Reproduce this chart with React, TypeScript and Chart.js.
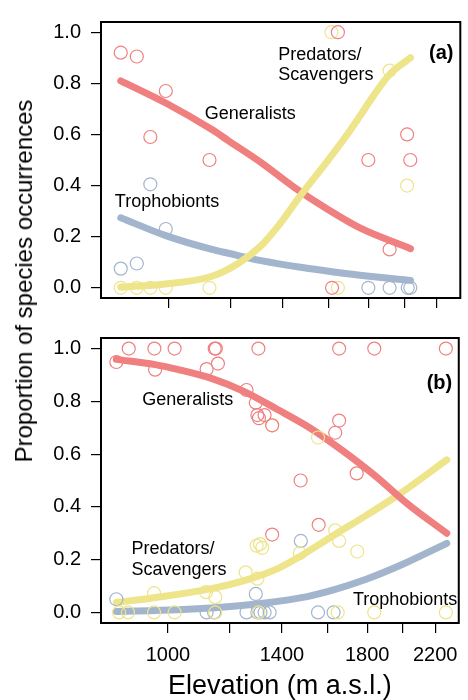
import React, { useEffect, useRef } from 'react';
import { Chart, registerables } from 'chart.js';

Chart.register(...registerables);

const FONT = '"Liberation Sans", Arial, Helvetica, sans-serif';
const RED = 'rgb(240,128,128)';
const YELLOW = 'rgb(238,228,138)';
const BLUE = 'rgb(162,181,205)';

// Axes
const X_MIN = 821;
const X_MAX = 2358;
const X_TICKS = [1000, 1200, 1400, 1600, 1800, 2000, 2200];
const X_LABELS = [1000, 1400, 1800, 2200];
const Y_MIN = -0.04;
const Y_MAX = 1.04;
const Y_TICKS = [0, 0.2, 0.4, 0.6, 0.8, 1.0];

// ---------- Panel (a) observed ----------
const aGenElev = [870, 912, 949, 993, 1129, 1618, 1646, 1800, 1916, 2017, 2036];
const aGenProp = [0.92, 0.905, 0.59, 0.77, 0.5, 0.0, 1.0, 0.5, 0.15, 0.6, 0.5];
const aTroElev = [870, 912, 949, 993, 1800, 1916, 2021, 2036];
const aTroProp = [0.075, 0.095, 0.405, 0.23, 0, 0, 0, 0];
const aPreElev = [870, 912, 949, 993, 1129, 1615, 1646, 1916, 2017];
const aPreProp = [0, 0, 0, 0, 0, 1.0, 0, 0.85, 0.4];

// ---------- Panel (a) fitted curves ----------
const aGenFitElev = [870, 993, 1137, 1193, 1314, 1448, 1595, 1756, 2037];
const aGenFitProp = [0.81, 0.723, 0.619, 0.576, 0.49, 0.393, 0.308, 0.234, 0.153];
const aTroFitElev = [870, 993, 1137, 1193, 1314, 1476, 1626, 1791, 2037];
const aTroFitProp = [0.274, 0.204, 0.15, 0.135, 0.106, 0.08, 0.062, 0.046, 0.029];
const aPreFitElev = [870, 993, 1137, 1228, 1314, 1380, 1462, 1595, 1674, 1756, 1826, 1916, 2037];
const aPreFitProp = [0.003, 0.015, 0.045, 0.095, 0.165, 0.24, 0.345, 0.495, 0.58, 0.672, 0.75, 0.835, 0.9];

// ---------- Panel (b) observed ----------
const bGenElev = [891, 961, 1020, 1148, 1152, 1306, 1657, 1838, 2270, 859, 963, 1121, 1159, 1261, 1296, 1302, 1308, 1330, 1360, 1657, 1638, 1745, 1479, 1560, 1360];
const bGenProp = [1, 1, 1, 1, 1, 1, 1, 1, 1, 0.949, 0.92, 0.922, 0.943, 0.843, 0.795, 0.748, 0.736, 0.748, 0.709, 0.727, 0.681, 0.527, 0.5, 0.332, 0.295];
const bTroElev = [859, 1296, 1480, 1121, 1146, 1261, 1302, 1314, 1330, 1350, 1557, 1630];
const bTroProp = [0.05, 0.07, 0.271, 0, 0, 0, 0, 0, 0, 0, 0, 0];
const bPreElev = [866, 889, 960, 1020, 1150, 1306, 1650, 1838, 2270, 960, 1119, 1150, 1258, 1302, 1299, 1312, 1321, 1360, 1557, 1638, 1657, 1476, 1748];
const bPreProp = [0, 0, 0, 0, 0, 0, 0, 0, 0, 0.073, 0.077, 0.058, 0.152, 0.128, 0.253, 0.259, 0.245, 0.709, 0.663, 0.311, 0.271, 0.225, 0.231];

// ---------- Panel (b) fitted curves ----------
const bGenFitElev = [859, 963, 1032, 1137, 1253, 1380, 1519, 1674, 1844, 2030, 2276];
const bGenFitProp = [0.959, 0.939, 0.92, 0.887, 0.837, 0.77, 0.7, 0.613, 0.517, 0.41, 0.3];
const bTroFitElev = [859, 1032, 1253, 1476, 1626, 1791, 1972, 2276];
const bTroFitProp = [0.004, 0.01, 0.027, 0.055, 0.085, 0.125, 0.175, 0.262];
const bPreFitElev = [859, 960, 1137, 1277, 1380, 1476, 1626, 1791, 1972, 2276];
const bPreFitProp = [0.038, 0.056, 0.09, 0.128, 0.165, 0.212, 0.29, 0.366, 0.445, 0.578];

type Lbl = { text: string; x: number; y: number; bold?: boolean; align?: CanvasTextAlign; size?: number };

const aLabels: Lbl[] = [
  { text: 'Generalists', x: 1113, y: 0.678 },
  { text: 'Predators/', x: 1382, y: 0.912 },
  { text: 'Scavengers', x: 1382, y: 0.833 },
  { text: 'Trophobionts', x: 855, y: 0.334 },
  { text: '(a)', x: 2311, y: 0.916, bold: true, align: 'right', size: 20 },
];
const bLabels: Lbl[] = [
  { text: 'Generalists', x: 927, y: 0.804 },
  { text: 'Predators/', x: 898, y: 0.241 },
  { text: 'Scavengers', x: 898, y: 0.162 },
  { text: 'Trophobionts', x: 1726, y: 0.046 },
  { text: '(b)', x: 2313, y: 0.869, bold: true, align: 'right', size: 20 },
];

const pts = (xs: number[], ys: number[]) => xs.map((x, i) => ({ x, y: ys[i] }));

const pointSet = (xs: number[], ys: number[], color: string) => ({
  data: pts(xs, ys),
  showLine: false,
  pointRadius: 6.5,
  pointHoverRadius: 6.5,
  pointBorderWidth: 1.2,
  pointBorderColor: color,
  pointBackgroundColor: 'rgba(0,0,0,0)',
  borderColor: color,
  backgroundColor: 'rgba(0,0,0,0)',
});

const lineSet = (xs: number[], ys: number[], color: string) => ({
  data: pts(xs, ys),
  showLine: true,
  pointRadius: 0,
  pointHoverRadius: 0,
  borderColor: color,
  backgroundColor: color,
  borderWidth: 7,
  borderCapStyle: 'round',
  borderJoinStyle: 'round',
  cubicInterpolationMode: 'monotone',
  fill: false,
});

const boxPlugin = {
  id: 'box',
  afterDraw(chart: any) {
    const { ctx, chartArea } = chart;
    ctx.save();
    ctx.strokeStyle = '#000';
    ctx.lineWidth = 2;
    ctx.strokeRect(chartArea.left, chartArea.top, chartArea.right - chartArea.left, chartArea.bottom - chartArea.top);
    ctx.restore();
  },
};

const makeLabelPlugin = (labels: Lbl[]) => ({
  id: 'annot',
  afterDatasetsDraw(chart: any) {
    const { ctx } = chart;
    const xs = chart.scales.x;
    const ys = chart.scales.y;
    ctx.save();
    ctx.fillStyle = '#000';
    ctx.textBaseline = 'middle';
    labels.forEach((l) => {
      ctx.font = `${l.bold ? 'bold ' : ''}${l.size || 18}px ${FONT}`;
      ctx.textAlign = l.align || 'left';
      ctx.fillText(l.text, xs.getPixelForValue(l.x), ys.getPixelForValue(l.y));
    });
    ctx.restore();
  },
});

type PanelProps = {
  top: number;
  height: number;
  xAxisHeight: number;
  showX: boolean;
  datasets: any[];
  labels: Lbl[];
};

function Panel({ top, height, xAxisHeight, showX, datasets, labels }: PanelProps) {
  const ref = useRef<HTMLCanvasElement>(null);
  useEffect(() => {
    const chart = new Chart(ref.current as HTMLCanvasElement, {
      type: 'scatter',
      data: { datasets },
      options: {
        animation: false,
        responsive: false,
        devicePixelRatio: 1,
        layout: { padding: { top: 10, right: 3, left: 0, bottom: 0 } },
        plugins: { legend: { display: false }, tooltip: { enabled: false } },
        scales: {
          x: {
            type: 'logarithmic',
            position: 'bottom',
            min: X_MIN,
            max: X_MAX,
            afterBuildTicks: (s: any) => {
              s.ticks = X_TICKS.map((v) => ({ value: v }));
            },
            afterFit: (s: any) => {
              s.height = xAxisHeight;
            },
            grid: { drawOnChartArea: false, drawTicks: true, tickLength: 10, color: '#000', lineWidth: 1.2 },
            border: { display: false },
            ticks: {
              display: showX,
              autoSkip: false,
              maxRotation: 0,
              padding: 10,
              color: '#000',
              font: { family: FONT, size: 20 },
              callback: (v: any) => (X_LABELS.includes(Number(v)) ? String(v) : ''),
            },
            title: {
              display: showX,
              text: 'Elevation (m a.s.l.)',
              color: '#000',
              font: { family: FONT, size: 27, lineHeight: 1 },
              padding: { top: 0, bottom: 0 },
            },
          },
          y: {
            type: 'linear',
            min: Y_MIN,
            max: Y_MAX,
            afterBuildTicks: (s: any) => {
              s.ticks = Y_TICKS.map((v) => ({ value: v }));
            },
            afterFit: (s: any) => {
              s.width = 101;
            },
            grid: { drawOnChartArea: false, drawTicks: true, tickLength: 10, color: '#000', lineWidth: 1.2 },
            border: { display: false },
            ticks: {
              padding: 10,
              color: '#000',
              font: { family: FONT, size: 20 },
              callback: (v: any) => Number(v).toFixed(1),
            },
          },
        },
      } as any,
      plugins: [boxPlugin, makeLabelPlugin(labels)],
    });
    return () => chart.destroy();
  }, []);
  return (
    <canvas
      ref={ref}
      width={468}
      height={height}
      style={{ position: 'absolute', left: 0, top, width: 468, height }}
    />
  );
}

export default function App() {
  const aSets = [
    pointSet(aGenElev, aGenProp, RED),
    pointSet(aPreElev, aPreProp, YELLOW),
    pointSet(aTroElev, aTroProp, BLUE),
    lineSet(aPreFitElev, aPreFitProp, YELLOW),
    lineSet(aGenFitElev, aGenFitProp, RED),
    lineSet(aTroFitElev, aTroFitProp, BLUE),
  ];
  const bSets = [
    pointSet(bGenElev, bGenProp, RED),
    pointSet(bPreElev, bPreProp, YELLOW),
    pointSet(bTroElev, bTroProp, BLUE),
    lineSet(bGenFitElev, bGenFitProp, RED),
    lineSet(bPreFitElev, bPreFitProp, YELLOW),
    lineSet(bTroFitElev, bTroFitProp, BLUE),
  ];
  return (
    <div style={{ position: 'absolute', left: 0, top: 0, width: 468, height: 700, background: '#fff', overflow: 'hidden' }}>
      <Panel top={0} height={320} xAxisHeight={15} showX={false} datasets={aSets} labels={aLabels} />
      <Panel top={316} height={384} xAxisHeight={77} showX={true} datasets={bSets} labels={bLabels} />
      <div
        style={{
          position: 'absolute',
          left: 24,
          top: 281,
          transform: 'translate(-50%, -50%) rotate(-90deg)',
          fontFamily: FONT,
          fontSize: 24,
          lineHeight: 1,
          whiteSpace: 'nowrap',
          color: '#000',
        }}
      >
        Proportion of species occurrences
      </div>
    </div>
  );
}
